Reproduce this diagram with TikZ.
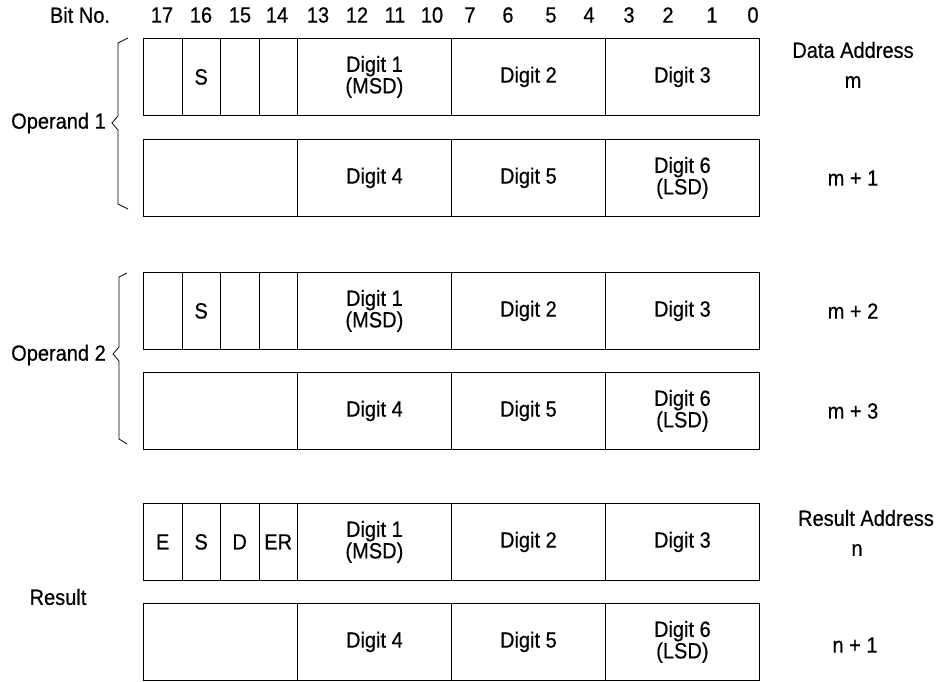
\documentclass[tikz,border=0pt]{standalone}
\usepackage{fontspec}
\setmainfont{Liberation Sans}[FakeStretch=0.91,FakeBold=0.5]
\begin{document}
\begin{tikzpicture}[x=1pt,y=-1pt,
  txt/.style={font=\fontsize{22}{19.5}\selectfont, inner sep=0pt, align=center},
  cell/.style={txt, draw, line width=0.8pt, minimum height=77pt, anchor=north west},
  bit/.style={cell, minimum width=38.5pt},
  quad/.style={cell, minimum width=154pt},
  wide/.style={cell, minimum width=154pt},
  brace/.style={draw, line width=0.8pt}]
\useasboundingbox (0,0) rectangle (943,681);

% bit numbering header
\node[txt] (hdr) at (80,15) {Bit No.};
\foreach \b/\x in {17/162,16/201,15/240,14/277,13/318,12/357,11/395,10/432,
                   7/470,6/508,5/551,4/589,3/629,2/668,1/712,0/753}
  \node[txt] (b\b) at (\x,15) {\b};

% one 18-bit word with sign/flag cells: \flagword{name}{top}{E}{S}{D}{ER}
\newcommand\flagword[6]{%
  \node[bit] (#1a) at (143,#2) {#3};
  \node[bit] (#1b) at (181.5,#2) {#4};
  \node[bit] (#1c) at (220,#2) {#5};
  \node[bit] (#1d) at (258.5,#2) {#6};
  \node[quad] (#1e) at (297,#2) {Digit 1\\(MSD)};
  \node[quad] (#1f) at (451,#2) {Digit 2};
  \node[quad] (#1g) at (605,#2) {Digit 3};}
% the low-order word
\newcommand\lowword[2]{%
  \node[wide] (#1a) at (143,#2) {};
  \node[quad] (#1e) at (297,#2) {Digit 4};
  \node[quad] (#1f) at (451,#2) {Digit 5};
  \node[quad] (#1g) at (605,#2) {Digit 6\\(LSD)};}

\flagword{wa}{38}{}{S}{}{}
\lowword{wb}{139}
\flagword{wc}{272}{}{S}{}{}
\lowword{wd}{372}
\flagword{we}{503}{E}{S}{D}{ER}
\lowword{wf}{603}

% addresses
\node[txt] (da) at (853,50) {Data Address};
\node[txt] (am) at (853,82) {m};
\node[txt] (am1) at (853,178) {m + 1};
\node[txt] (am2) at (853,311) {m + 2};
\node[txt] (am3) at (853,411) {m + 3};
\node[txt] (ra) at (866,518) {Result Address};
\node[txt] (an) at (857,550) {n};
\node[txt] (an1) at (855,645) {n + 1};

% operand labels and braces
\node[txt, anchor=east] (op1) at (106,123) {Operand 1};
\node[txt, anchor=east] (op2) at (106,355) {Operand 2};
\node[txt] (res) at (58,597) {Result};
\path[brace] (128,38) -- (118,43) -- (118,116) -- (112,123) -- (118,130) -- (118,204) -- (128,209);
\path[brace] (127,273) -- (119,277) -- (119,347) -- (113,354) -- (119,361) -- (119,439) -- (127,444);
\end{tikzpicture}
\end{document}
